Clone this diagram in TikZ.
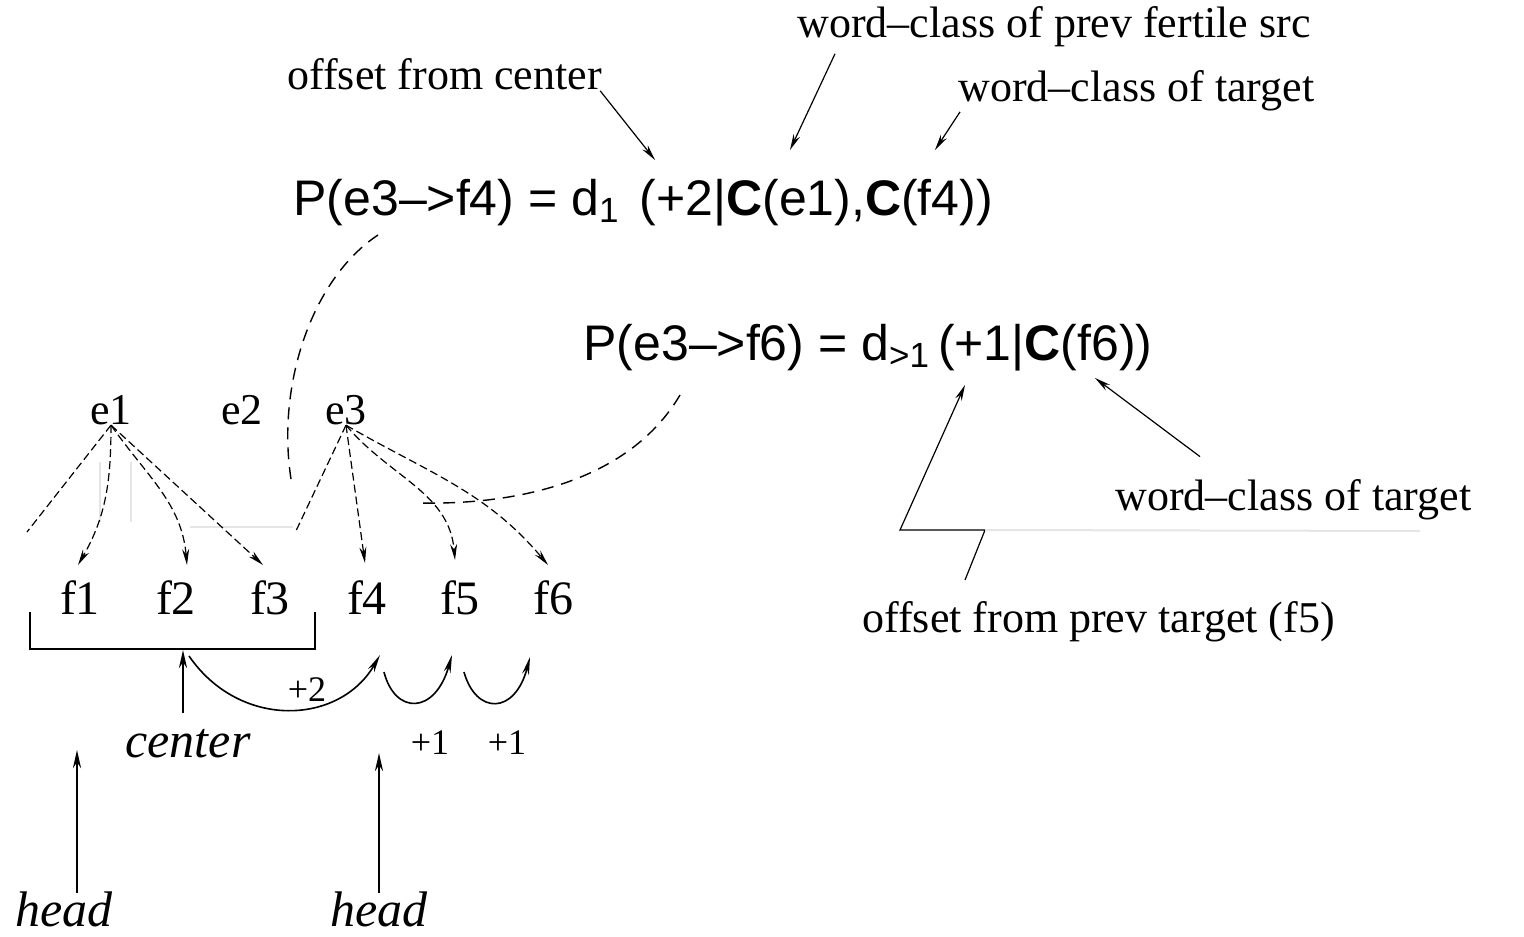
\documentclass[tikz,border=0pt]{standalone}
\usepackage{fontspec}
\setmainfont{Liberation Serif}
\newfontfamily\formfont{Liberation Sans}
\usetikzlibrary{arrows.meta}
\begin{document}
\begin{tikzpicture}[x=0.5pt,y=-0.5pt,
  lbl/.style={inner sep=0pt, font=\fontsize{22}{26}\selectfont},
  eword/.style={inner sep=0pt, font=\fontsize{22}{26}\selectfont},
  fword/.style={inner sep=0pt, font=\fontsize{24}{28}\selectfont},
  formula/.style={inner sep=0pt, font=\formfont\fontsize{25}{30}\selectfont},
  itl/.style={inner sep=0pt, font=\itshape\fontsize{25}{30}\selectfont},
  offs/.style={inner sep=0pt, font=\fontsize{18}{22}\selectfont},
  ptr/.style={line width=0.6pt, -{Stealth[length=8pt,width=3.5pt]}},
  alink/.style={line width=0.6pt, dash pattern=on 4pt off 2pt},
  alinkarr/.style={alink, -{Stealth[length=8pt,width=3.5pt]}},
  fcurve/.style={line width=0.7pt, dash pattern=on 6pt off 4pt},
  hookarr/.style={line width=0.8pt, -{Stealth[length=9pt,width=3.5pt]}},
  headarr/.style={line width=1.3pt, -{Stealth[length=9pt,width=4pt]}},
  faint/.style={black!10, line width=1pt}
]
\useasboundingbox (0,0) rectangle (1524,936);

% ---- words
\node[eword] (e1) at (111,410) {e1};
\node[eword] (e2) at (242,410) {e2};
\node[eword] (e3) at (346,410) {e3};
\node[fword] (f1) at (80,598) {f1};
\node[fword] (f2) at (176,598) {f2};
\node[fword] (f3) at (270,598) {f3};
\node[fword] (f4) at (367,598) {f4};
\node[fword] (f5) at (460,598) {f5};
\node[fword] (f6) at (553,598) {f6};

% ---- alignment links
\coordinate (a1) at (78,565);
\coordinate (a2) at (187,565);
\coordinate (a3) at (263,565);
\coordinate (a4) at (365,563);
\coordinate (a5) at (455,560);
\coordinate (a6) at (548,565);
\coordinate (x1) at (27,532);
\coordinate (x3) at (295,533);
\draw[faint] (100,462) -- (100,522);
\draw[faint] (131,462) -- (131,522);
\draw[faint] (190,527) -- (293,527);
\draw[alink] (e1.south) -- (x1);
\draw[alinkarr] (e1.south) to[out=-90,in=60] (a1);
\draw[alinkarr] (e1.south) to[out=-55,in=95] (a2);
\draw[alinkarr] (e1.south) -- (a3);
\draw[alink] (e3.south) -- (x3);
\draw[alinkarr] (e3.south) -- (a4);
\draw[alinkarr] (e3.south) to[out=-50,in=95] (a5);
\draw[alinkarr] (e3.south) to[out=-30,in=130] (a6);

% ---- formulas
\node[formula, anchor=base west] (F1) at (293,215)
  {P(e3–>f4) = d\textsubscript{1}\hspace{10pt}(+2|\textbf{C}(e1),\textbf{C}(f4))};
\node[formula, anchor=base west] (F2) at (583,360)
  {P(e3–>f6) = d\textsubscript{>1}\hspace{4pt}(+1|\textbf{C}(f6))};

\coordinate (c1s) at (378,235);
\coordinate (c1e) at (292,485);
\coordinate (c2s) at (680,395);
\coordinate (c2e) at (420,503);
\draw[fcurve] (c1s) .. controls (310,280) and (275,390) .. (c1e);
\draw[fcurve] (c2s) .. controls (630,480) and (520,505) .. (c2e);

% ---- top labels
\node[lbl, anchor=base west] (L1) at (287,90) {offset from center};
\node[lbl, anchor=base west] (L2) at (797,38) {word–class of prev fertile src};
\node[lbl, anchor=base west] (L3) at (958,102) {word–class of target};
\coordinate (g1) at (655,160);
\coordinate (g2) at (790,150);
\coordinate (g3) at (935,150);
\draw[ptr] ([xshift=-1pt]L1.south east) -- (g1);
\draw[ptr] ([xshift=19pt,yshift=-3pt]L2.south west) -- (g2);
\draw[ptr] ([xshift=1pt]L3.south west) -- (g3);

% ---- right labels
\node[lbl, anchor=base west] (L4) at (1115,510) {word–class of target};
\node[lbl, anchor=base west] (L5) at (862,632) {offset from prev target (f5)};
\coordinate (g4) at (1095,378);
\coordinate (g5) at (965,385);
\coordinate (k0) at (965,580);
\coordinate (k1) at (985,530);
\coordinate (k2) at (900,530);
\draw[ptr] ([xshift=42.5pt,yshift=11pt]L4.north west) -- (g4);
\draw[ptr] (k0) -- (k1) -- (k2) -- (g5);
\draw[faint] (k1) -- (1420,531);

% ---- bottom: bracket, center, offsets
\coordinate (bl) at (30,612);
\coordinate (br) at (315,612);
\coordinate (ctr) at (183,650);
\coordinate (cb) at (183,713);
\draw[line width=1.3pt] (bl) -- (30,649) -- (315,649) -- (br);
\node[itl, anchor=base] (cen) at (188,757) {center};
\draw[headarr] (cb) -- (ctr);

\coordinate (t4) at (380,655);
\coordinate (t5) at (452,655);
\coordinate (t6) at (530,657);
\coordinate (s4) at (384,672);
\coordinate (s5) at (464,672);
\draw[hookarr] ([xshift=3pt,yshift=-3pt]ctr) .. controls (240,730) and (340,725) .. (t4);
\draw[hookarr] (s4) .. controls (395,715) and (435,715) .. (t5);
\draw[hookarr] (s5) .. controls (476,715) and (515,715) .. (t6);
\node[offs] (p2) at (307,690) {+2};
\node[offs] (p1a) at (430,743) {+1};
\node[offs] (p1b) at (507,743) {+1};

% ---- heads
\node[itl, anchor=base west] (h1) at (15,926) {head};
\node[itl, anchor=base west] (h2) at (330,926) {head};
\coordinate (hb1) at (77,893);
\coordinate (ht1) at (77,750);
\coordinate (hb2) at (379,893);
\coordinate (ht2) at (379,753);
\draw[headarr] (hb1) -- (ht1);
\draw[headarr] (hb2) -- (ht2);
\end{tikzpicture}
\end{document}
